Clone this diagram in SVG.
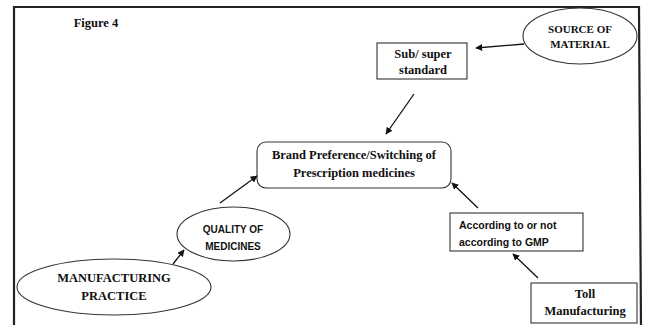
<svg xmlns="http://www.w3.org/2000/svg" width="646" height="325" viewBox="0 0 646 325">
<style>
.serif{font-family:"Liberation Serif","Times New Roman",serif;font-weight:bold;fill:#111;text-anchor:middle}
.sans{font-family:"Liberation Sans",Arial,sans-serif;font-weight:bold;fill:#111}
.shape{fill:#fff;stroke:#333;stroke-width:1.1}
.conn line{stroke:#111;stroke-width:1.3;marker-end:url(#ah)}
</style>
<defs>
<marker id="ah" viewBox="0 0 10 10" refX="9" refY="5" markerWidth="7" markerHeight="7" markerUnits="userSpaceOnUse" orient="auto">
<path d="M0,0 L10,5 L0,10 z" fill="#111"/>
</marker>
</defs>
<rect width="646" height="325" fill="#fff"/>
<path d="M14,330 L14,7 L639,7 L641,330" fill="none" stroke="#222" stroke-width="2.2"/>
<text class="serif" x="96" y="27" font-size="12.5">Figure 4</text>
<g id="source">
<ellipse class="shape" cx="580" cy="36" rx="57" ry="28"/>
<text class="serif" x="580" y="33" font-size="11">SOURCE OF</text>
<text class="serif" x="580" y="48" font-size="11">MATERIAL</text>
</g>
<g id="substandard">
<rect class="shape" x="377" y="43" width="90" height="36"/>
<text class="serif" x="423" y="58" font-size="12.5">Sub/ super</text>
<text class="serif" x="423" y="74" font-size="12.5">standard</text>
</g>
<g id="brand">
<rect class="shape" x="257" y="142" width="194" height="46" rx="9"/>
<text class="serif" x="354" y="159" font-size="12.5">Brand Preference/Switching of</text>
<text class="serif" x="354" y="177" font-size="12.5">Prescription medicines</text>
</g>
<g id="quality">
<ellipse class="shape" cx="233.5" cy="234" rx="56.5" ry="27"/>
<text class="sans" x="233" y="233" font-size="10" text-anchor="middle">QUALITY OF</text>
<text class="sans" x="233" y="250" font-size="10" text-anchor="middle">MEDICINES</text>
</g>
<g id="manufacturing">
<ellipse class="shape" cx="114" cy="287" rx="97" ry="28"/>
<text class="serif" x="114" y="282" font-size="12.5">MANUFACTURING</text>
<text class="serif" x="114" y="300" font-size="12.5">PRACTICE</text>
</g>
<g id="gmp">
<rect class="shape" x="450" y="213" width="133" height="38"/>
<text class="sans" x="459" y="229" font-size="10.5">According to or not</text>
<text class="sans" x="459" y="246" font-size="10.5">according to GMP</text>
</g>
<g id="toll">
<rect class="shape" x="531" y="283" width="106" height="40"/>
<text class="serif" x="585" y="298" font-size="12.5">Toll</text>
<text class="serif" x="585" y="315" font-size="12.5">Manufacturing</text>
</g>
<g class="conn" id="connectors">
<line x1="524" y1="44" x2="476" y2="48"/>
<line x1="414" y1="94" x2="386" y2="134"/>
<line x1="220" y1="203" x2="257" y2="176"/>
<line x1="478" y1="208" x2="452" y2="183"/>
<line x1="173" y1="264" x2="184" y2="250"/>
<line x1="538" y1="278" x2="513" y2="254"/>
</g>
</svg>
